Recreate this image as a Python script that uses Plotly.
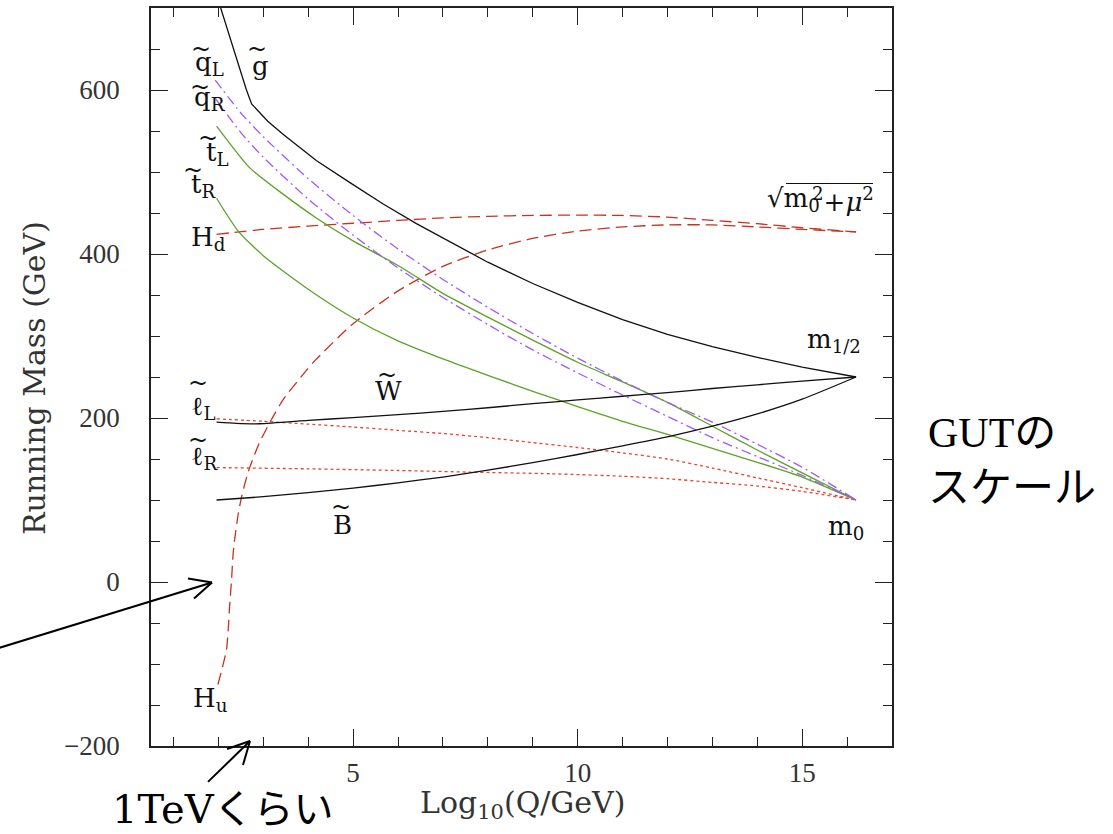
import plotly.graph_objects as go

# ---- running masses vs log10(Q/GeV) ----
gluino_x = [1.96, 2.05, 2.25, 2.46, 2.62, 2.74, 3.1, 3.44, 4.18, 4.93, 5.67, 6.41, 7.15, 8.0, 9.0, 10.0, 11.0, 12.0, 13.0, 14.0, 15.0, 16.2]
gluino_m = [716, 700, 664, 627, 601, 583, 562, 546, 514, 487, 461, 437, 415, 390, 364, 341, 320, 302, 287, 274, 262, 250]

wino_x = [1.96, 2.4, 2.92, 4, 5, 6, 7, 8, 9, 10, 11, 12, 13, 14, 15, 16.2]
wino_m = [195, 193.5, 193, 197, 200.5, 204, 208, 212.5, 217.5, 222, 226.5, 231, 236, 240.5, 245, 250]

bino_x = [1.96, 3, 4, 5, 6, 7, 8, 9, 10, 11, 12, 13, 14, 15, 16.2]
bino_m = [100, 104, 109, 114.5, 121, 128, 136.5, 145.5, 155.5, 166, 177, 190, 205, 223, 250]

sq_x = [1.93, 2.5, 3, 4, 5, 6, 7, 8, 9, 10, 11, 12, 13, 14, 15, 16.2]
qL_m = [612, 572, 543, 492, 447, 406, 369, 335, 303, 273, 245, 219, 195, 168, 140, 100]
qR_m = [590, 548, 518, 467, 423, 383, 347, 314, 283, 255, 228, 202, 176, 153, 130, 100]

tL_x = [1.96, 2.7, 3.44, 4.18, 5, 6, 7, 8, 9, 10, 11, 12, 13, 14, 15, 16.2]
tL_m = [556, 505, 473, 444, 416, 386, 352, 323, 295, 268, 244, 219, 190, 161, 133, 100]

tR_x = [1.96, 2.44, 3, 4, 5, 6, 7, 8, 9, 10, 11, 12, 13, 14, 15, 16.2]
tR_m = [468, 428, 398, 357, 322, 294, 272, 252, 232.5, 214, 196, 180, 163, 146, 128, 100]

slL_x = [1.96, 3, 4, 5, 6, 7, 8, 9, 10, 11, 12, 13, 14, 15, 16.2]
slL_m = [199, 196, 192.5, 189, 185, 181, 176, 170, 164, 157.5, 150, 139, 127, 115, 100]

slR_x = [1.96, 4, 6, 7.6, 9.4, 11, 12, 13, 14, 15, 16.2]
slR_m = [139.5, 138, 136, 134, 132, 129, 126, 121.5, 117, 110.5, 100]

Hd_x = [1.96, 3, 4, 5, 6, 7, 8, 9, 10, 11, 12, 13, 14, 15, 16.2]
Hd_m = [424, 430, 434, 437.5, 441, 444, 446, 447, 447.5, 447, 445, 441, 437, 432, 427]

Hu_x = [1.99, 2.09, 2.18, 2.22, 2.25, 2.29, 2.33, 2.37, 2.44, 2.51, 2.6, 2.7, 2.9, 3.15, 3.45, 3.96, 4.15, 5, 6, 7, 8, 9, 10, 11, 12, 13, 14, 15, 16.2]
Hu_m = [-125, -104, -83, -58, -30, 0, 35, 55, 82, 102, 122, 140, 168, 195, 223, 258, 270, 315, 355, 385, 405, 419, 428, 433, 435.5, 435.5, 433, 430, 427]

# ---- styles ----
BLACK = "#111111"
PURPLE = "#a259ff"
GREEN = "#5ca227"
RED_DOT = "#f0402e"
RED_DASH = "#c8321e"
SERIF = "DejaVu Serif"
TICKFONT = "Liberation Serif"

W, H = 1113, 834
ML, MR, MT, MB = 151, 221, 6, 88


def paper(x, y):
    """pixel position -> paper coordinates"""
    return (x - ML) / (W - ML - MR), (H - MB - y) / (H - MT - MB)


fig = go.Figure()


def curve(x, y, color, dash="solid", shape="spline"):
    fig.add_trace(go.Scatter(
        x=x, y=y, mode="lines",
        line=dict(color=color, width=1.3, dash=dash, shape=shape,
                  smoothing=0.6 if shape == "spline" else None),
        showlegend=False, hoverinfo="skip"))


curve(Hu_x, Hu_m, RED_DASH, "12px,6px")
curve(Hd_x, Hd_m, RED_DASH, "12px,6px")
curve(slL_x, slL_m, RED_DOT, "3px,3px")
curve(slR_x, slR_m, RED_DOT, "3px,3px")
curve(tL_x, tL_m, GREEN)
curve(tR_x, tR_m, GREEN)
curve(sq_x, qL_m, PURPLE, "10px,4px,2px,4px")
curve(sq_x, qR_m, PURPLE, "10px,4px,2px,4px")
curve(gluino_x, gluino_m, BLACK, shape="linear")
curve(wino_x, wino_m, BLACK)
curve(bino_x, bino_m, BLACK)

# ---- curve labels (data coordinates, left-anchored) ----
LBL = 26
labels = [
    (1.43, 632, "q<sub>L</sub>"),
    (2.70, 629, "g"),
    (1.41, 590, "q<sub>R</sub>"),
    (1.67, 523, "t<sub>L</sub>"),
    (1.34, 484, "t<sub>R</sub>"),
    (1.34, 419, "H<sub>d</sub>"),
    (15.06, 294, "m<sub>1/2</sub>"),
    (5.44, 233, "W"),
    (1.34, 213, "\u2113<sub>L</sub>"),
    (1.34, 152, "\u2113<sub>R</sub>"),
    (4.50, 69, "B"),
    (15.52, 67, "m<sub>0</sub>"),
    (1.40, -143, "H<sub>u</sub>"),
]
for lx, ly, txt in labels:
    fig.add_annotation(x=lx, y=ly, xref="x", yref="y", text=txt, showarrow=False,
                       xanchor="left", yanchor="middle",
                       font=dict(family=SERIF, size=LBL, color=BLACK))

# tildes over the superpartner symbols
tildes = [
    (1.61, 650), (2.86, 650), (1.59, 604), (1.76, 541), (1.43, 503),
    (1.54, 243), (1.54, 173), (5.75, 252), (4.73, 91),
]
for lx, ly in tildes:
    fig.add_annotation(x=lx, y=ly, xref="x", yref="y", text="~", showarrow=False,
                       xanchor="center", yanchor="middle",
                       font=dict(family=SERIF, size=24, color=BLACK))

# sqrt(m0^2 + mu^2) at the GUT end of the Higgs lines
fig.add_annotation(x=14.17, y=466, xref="x", yref="y", text="\u221am<sub>0</sub>",
                   showarrow=False, xanchor="left", yanchor="middle",
                   font=dict(family=SERIF, size=LBL, color=BLACK))
fig.add_annotation(x=15.17, y=466, xref="x", yref="y",
                   text="<sup>2</sup>+<i>\u03bc</i><sup>2</sup>",
                   showarrow=False, xanchor="left", yanchor="middle",
                   font=dict(family=SERIF, size=LBL, color=BLACK))
bx0, by0 = paper(786, 182)
bx1, _ = paper(873, 182)
fig.add_shape(type="line", xref="paper", yref="paper", x0=bx0, x1=bx1, y0=by0, y1=by0,
              line=dict(color=BLACK, width=1.2))

# ---- axis titles ----
tx, ty = paper(35, 377)
fig.add_annotation(x=tx, y=ty, xref="paper", yref="paper", text="Running Mass (GeV)",
                   textangle=-90, showarrow=False, xanchor="center", yanchor="middle",
                   font=dict(family=SERIF, size=30, color="#333333"))
tx, ty = paper(522, 805)
fig.add_annotation(x=tx, y=ty, xref="paper", yref="paper", text="Log<sub>10</sub>(Q/GeV)",
                   showarrow=False, xanchor="center", yanchor="middle",
                   font=dict(family=SERIF, size=30, color="#333333"))

# ---- Japanese notes ----
tx, ty = paper(926, 460)
fig.add_annotation(x=tx, y=ty, xref="paper", yref="paper", text="GUTの<br>スケール",
                   showarrow=False, align="left", xanchor="left", yanchor="middle",
                   font=dict(family="Liberation Serif, Noto Sans CJK JP", size=42, color="black"))
tx, ty = paper(110, 834)
fig.add_annotation(x=tx, y=ty, xref="paper", yref="paper", text="1TeVくらい",
                   showarrow=False, xanchor="left", yanchor="bottom",
                   font=dict(family="DejaVu Serif, Noto Sans CJK JP", size=40, color="black"))


def arrow(tail, tip, arm1, arm2):
    for a, b in ((tail, tip), (arm1, tip), (arm2, tip)):
        x0, y0 = paper(*a)
        x1, y1 = paper(*b)
        fig.add_shape(type="line", xref="paper", yref="paper", x0=x0, y0=y0, x1=x1, y1=y1,
                      line=dict(color="black", width=2))


arrow((-2, 648), (212, 582), (188, 578), (194, 598))
arrow((208, 782), (250, 741), (227, 749), (243, 765))

# ---- axes ----
axis_common = dict(showline=True, linecolor="#222222", linewidth=1.5, mirror="ticks",
                   ticks="inside", ticklen=17, tickwidth=1.2, tickcolor="#222222",
                   showgrid=False, zeroline=False,
                   tickfont=dict(family=TICKFONT, size=27, color="#333333"))
fig.update_xaxes(range=[0.5, 17.0], tickvals=[5, 10, 15], ticklabelstandoff=2,
                 minor=dict(ticks="inside", ticklen=9, dtick=1, tick0=0, tickcolor="#222222",
                            tickwidth=1.2),
                 **axis_common)
fig.update_yaxes(range=[-200, 700], tickvals=[-200, 0, 200, 400, 600], ticklabelstandoff=24,
                 minor=dict(ticks="inside", ticklen=9, dtick=50, tick0=0, tickcolor="#222222",
                            tickwidth=1.2),
                 **axis_common)

fig.update_layout(width=W, height=H, autosize=False,
                  margin=dict(l=ML, r=MR, t=MT, b=MB, pad=0),
                  plot_bgcolor="white", paper_bgcolor="white", showlegend=False)

fig.write_html("out.html")
